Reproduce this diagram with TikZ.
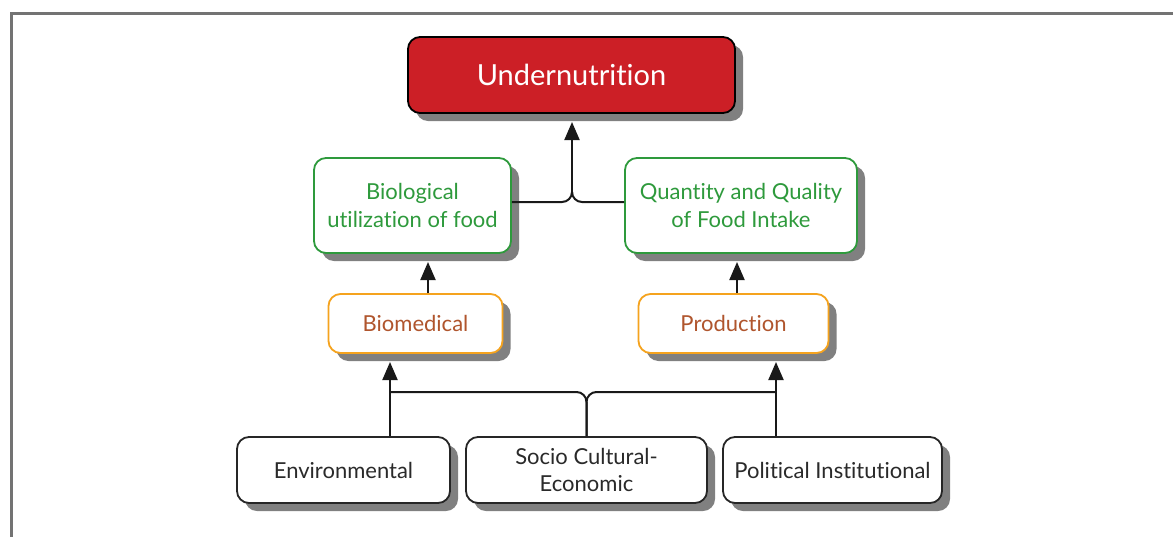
\documentclass[tikz,border=0pt]{standalone}
\usepackage{fontspec}
\setmainfont{Lato}[Ligatures=NoCommon]
\usetikzlibrary{arrows.meta,shadows}
\definecolor{unred}{HTML}{CC1F26}
\definecolor{grn}{HTML}{2E9A3C}
\definecolor{brn}{HTML}{B0552D}
\definecolor{org}{HTML}{F5A31E}
\definecolor{txtgray}{HTML}{2A2A2A}
\begin{document}
\begin{tikzpicture}[x=1pt,y=-1pt,
  box/.style={draw, rounded corners=12pt, line width=1.8pt, fill=white,
    align=center, inner sep=0pt,
    drop shadow={shadow xshift=8pt, shadow yshift=-8pt, fill=black!50, opacity=1}},
  redbox/.style={box, draw=black, fill=unred, text=white, font=\fontsize{29}{33}\selectfont},
  greenbox/.style={box, draw=grn, text=grn, font=\fontsize{22}{28}\selectfont},
  orangebox/.style={box, draw=org, text=brn, font=\fontsize{22}{28}\selectfont},
  blackbox/.style={box, draw=black!85, text=txtgray, font=\fontsize{22}{27}\selectfont},
  ln/.style={draw=black!90, line width=2pt},
  arr/.style={ln, -{Triangle[length=18pt,width=15pt]}}]
\useasboundingbox (0,0) rectangle (1173,536);
\fill[white] (0,0) rectangle (1173,536);
\draw[black!55, line width=3pt] (11,545) -- (11,13) -- (1180,13);

\node[redbox, minimum width=327pt, minimum height=76pt] (un) at (571.5,75) {Undernutrition};
\node[greenbox, minimum width=197pt, minimum height=95pt] (bio) at (412.5,205.5) {Biological\\utilization of food};
\node[greenbox, minimum width=232pt, minimum height=95pt] (qty) at (741,205.5) {Quantity and Quality\\of Food Intake};
\node[orangebox, minimum width=174pt, minimum height=59pt] (biom) at (415.5,323.5) {Biomedical};
\node[orangebox, minimum width=190pt, minimum height=59pt] (prod) at (733.5,323.5) {Production};
\node[blackbox, minimum width=213pt, minimum height=66pt] (env) at (343.5,470) {Environmental};
\node[blackbox, minimum width=241pt, minimum height=66pt] (soc) at (586.5,470) {Socio Cultural-\\Economic};
\node[blackbox, minimum width=219pt, minimum height=66pt] (pol) at (832.5,470) {Political Institutional};

% top junction
\coordinate (jt) at (572,193);
\draw[ln, rounded corners=10pt] (bio.east |- 0,202) -| (jt);
\draw[ln, rounded corners=10pt] (qty.west |- 0,202) -| (jt);
\draw[arr] (jt) -- (572,122);

% middle arrows
\draw[arr] (biom.north -| 428,0) -- (428,262);
\draw[arr] (prod.north -| 737,0) -- (737,262);

% bottom junction
\coordinate (lb) at (390,392);
\coordinate (rb) at (776,392);
\draw[ln, rounded corners=10pt] (soc.north) |- (lb);
\draw[ln, rounded corners=10pt] (soc.north) |- (rb);
\draw[arr] (env.north -| 390,0) -- (390,362);
\draw[arr] (pol.north -| 776,0) -- (776,362);
\end{tikzpicture}
\end{document}
